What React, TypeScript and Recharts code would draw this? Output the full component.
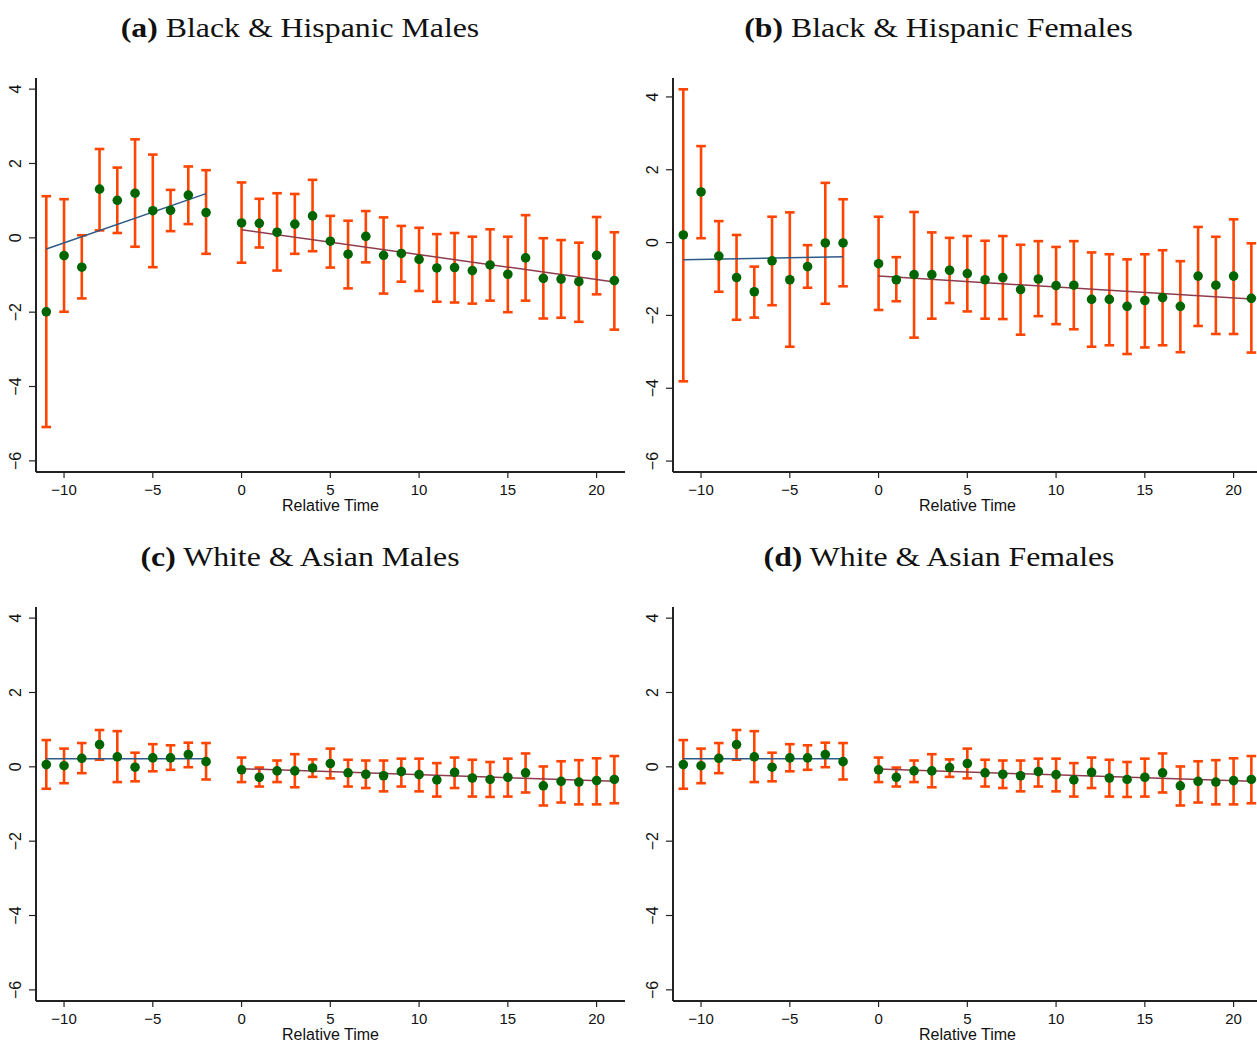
import React from 'react';
import { ComposedChart, Scatter, ErrorBar, XAxis, YAxis } from 'recharts';

// Event time (periods relative to treatment; -1 is the omitted reference period)
const relTime = [-11, -10, -9, -8, -7, -6, -5, -4, -3, -2, 0, 1, 2, 3, 4, 5, 6, 7, 8, 9, 10, 11, 12, 13, 14, 15, 16, 17, 18, 19, 20, 21];

// (a) Black & Hispanic Males
const bhMaleEst = [-1.99, -0.48, -0.79, 1.31, 1.01, 1.2, 0.73, 0.74, 1.15, 0.68, 0.4, 0.39, 0.15, 0.37, 0.59, -0.09, -0.44, 0.04, -0.47, -0.42, -0.58, -0.81, -0.8, -0.88, -0.73, -0.98, -0.54, -1.09, -1.11, -1.18, -0.47, -1.15];
const bhMaleLo = [-5.09, -1.99, -1.63, 0.2, 0.13, -0.24, -0.79, 0.18, 0.37, -0.43, -0.67, -0.26, -0.88, -0.43, -0.36, -0.8, -1.36, -0.66, -1.5, -1.18, -1.43, -1.72, -1.74, -1.77, -1.69, -2.0, -1.69, -2.17, -2.15, -2.26, -1.52, -2.47];
const bhMaleHi = [1.12, 1.04, 0.07, 2.39, 1.89, 2.65, 2.24, 1.29, 1.92, 1.82, 1.49, 1.05, 1.2, 1.18, 1.56, 0.59, 0.46, 0.72, 0.55, 0.32, 0.27, 0.1, 0.13, 0.03, 0.23, 0.03, 0.61, -0.01, -0.06, -0.13, 0.56, 0.15];
const bhMalePreFit = [{ t: -11, v: -0.3 }, { t: -2, v: 1.19 }];
const bhMalePostFit = [{ t: 0, v: 0.22 }, { t: 21, v: -1.19 }];

// (b) Black & Hispanic Females
const bhFemaleEst = [0.21, 1.39, -0.37, -0.96, -1.35, -0.5, -1.02, -0.66, -0.01, -0.01, -0.58, -1.02, -0.88, -0.88, -0.76, -0.85, -1.02, -0.96, -1.29, -1.0, -1.18, -1.17, -1.56, -1.56, -1.75, -1.59, -1.51, -1.75, -0.92, -1.17, -0.92, -1.53];
const bhFemaleLo = [-3.81, 0.12, -1.35, -2.12, -2.06, -1.72, -2.86, -1.24, -1.68, -1.2, -1.85, -1.61, -2.61, -2.09, -1.66, -1.89, -2.09, -2.1, -2.53, -2.02, -2.24, -2.38, -2.86, -2.82, -3.06, -2.88, -2.82, -3.01, -2.29, -2.51, -2.51, -3.02];
const bhFemaleHi = [4.21, 2.65, 0.59, 0.21, -0.66, 0.71, 0.83, -0.07, 1.64, 1.19, 0.71, -0.4, 0.84, 0.28, 0.13, 0.18, 0.05, 0.18, -0.06, 0.04, -0.12, 0.04, -0.27, -0.32, -0.46, -0.32, -0.21, -0.51, 0.43, 0.16, 0.64, -0.02];
const bhFemalePreFit = [{ t: -11, v: -0.47 }, { t: -2, v: -0.39 }];
const bhFemalePostFit = [{ t: 0, v: -0.92 }, { t: 21, v: -1.55 }];

// (c) White & Asian Males
const waMaleEst = [0.06, 0.03, 0.23, 0.6, 0.27, -0.01, 0.24, 0.24, 0.33, 0.14, -0.08, -0.28, -0.11, -0.11, -0.03, 0.09, -0.16, -0.2, -0.24, -0.13, -0.21, -0.35, -0.15, -0.3, -0.34, -0.28, -0.16, -0.51, -0.39, -0.41, -0.37, -0.34];
const waMaleLo = [-0.59, -0.44, -0.17, 0.19, -0.41, -0.39, -0.12, -0.08, -0.01, -0.34, -0.41, -0.53, -0.41, -0.55, -0.27, -0.31, -0.53, -0.57, -0.66, -0.53, -0.66, -0.8, -0.57, -0.8, -0.81, -0.8, -0.69, -1.04, -0.96, -1.01, -1.01, -0.98];
const waMaleHi = [0.72, 0.49, 0.64, 0.99, 0.96, 0.38, 0.61, 0.58, 0.65, 0.64, 0.25, -0.02, 0.17, 0.34, 0.2, 0.49, 0.19, 0.17, 0.17, 0.22, 0.22, 0.1, 0.25, 0.19, 0.13, 0.22, 0.36, 0.01, 0.15, 0.18, 0.23, 0.29];
const waMalePreFit = [{ t: -11, v: 0.22 }, { t: -2, v: 0.22 }];
const waMalePostFit = [{ t: 0, v: -0.05 }, { t: 21, v: -0.39 }];

// (d) White & Asian Females
const waFemaleEst = [0.06, 0.03, 0.23, 0.6, 0.27, -0.01, 0.24, 0.24, 0.33, 0.14, -0.08, -0.28, -0.11, -0.11, -0.02, 0.09, -0.16, -0.2, -0.24, -0.13, -0.21, -0.35, -0.15, -0.3, -0.34, -0.28, -0.16, -0.51, -0.39, -0.41, -0.37, -0.34];
const waFemaleLo = [-0.59, -0.44, -0.17, 0.19, -0.41, -0.39, -0.12, -0.08, -0.01, -0.34, -0.41, -0.53, -0.41, -0.55, -0.27, -0.31, -0.53, -0.57, -0.66, -0.53, -0.66, -0.8, -0.57, -0.8, -0.81, -0.8, -0.69, -1.04, -0.96, -1.01, -1.01, -0.98];
const waFemaleHi = [0.72, 0.49, 0.64, 0.99, 0.96, 0.38, 0.61, 0.58, 0.65, 0.64, 0.25, -0.02, 0.17, 0.34, 0.2, 0.49, 0.19, 0.17, 0.17, 0.22, 0.22, 0.1, 0.25, 0.19, 0.13, 0.22, 0.36, 0.01, 0.15, 0.18, 0.23, 0.29];
const waFemalePreFit = [{ t: -11, v: 0.22 }, { t: -2, v: 0.22 }];
const waFemalePostFit = [{ t: 0, v: -0.06 }, { t: 21, v: -0.39 }];

const xTicks = [-10, -5, 0, 5, 10, 15, 20];
const yTicks = [-6, -4, -2, 0, 2, 4];

const SANS = '"Liberation Sans", Arial, Helvetica, sans-serif';
const SERIF = '"Liberation Serif", "Times New Roman", serif';
const ORANGE = '#FF4500';
const GREEN = '#006400';
const PRE_COLOR = '#2e5a88';
const POST_COLOR = '#8f3b4b';

const buildRows = (est: number[], lo: number[], hi: number[]) =>
  relTime.map((t, i) => ({ t, v: est[i], ci: [est[i] - lo[i], hi[i] - est[i]] }));

const fmt = (n: number) => (n < 0 ? '\u2212' + Math.abs(n) : String(n));

const YTick = (props: any) => {
  const { x, y, payload } = props;
  return (
    <text
      x={x}
      y={y}
      transform={`rotate(-90, ${x}, ${y})`}
      textAnchor="middle"
      fontSize={16}
      fontFamily={SANS}
      fill="#111"
    >
      {fmt(payload.value)}
    </text>
  );
};

const XTick = (props: any) => {
  const { x, y, payload } = props;
  return (
    <text x={x} y={y + 14.5} textAnchor="middle" fontSize={15} fontFamily={SANS} fill="#111">
      {fmt(payload.value)}
    </text>
  );
};

const XLabel = (props: any) => {
  const vb = props.viewBox || {};
  return (
    <text x={vb.x + vb.width / 2} y={vb.y + 39} textAnchor="middle" fontSize={16} fontFamily={SANS} fill="#111">
      Relative Time
    </text>
  );
};

const Dot = (p: any) => <circle cx={p.cx} cy={p.cy} r={4.8} fill={GREEN} />;
const NoMark = () => <g />;

type PanelProps = {
  left: number;
  top: number;
  yDomain: [number, number];
  rows: { t: number; v: number; ci: number[] }[];
  preFit: { t: number; v: number }[];
  postFit: { t: number; v: number }[];
};

const Panel = ({ left, top, yDomain, rows, preFit, postFit }: PanelProps) => (
  <div style={{ position: 'absolute', left, top }}>
    <ComposedChart width={640} height={530} margin={{ top: 78, right: 15, bottom: 18, left: 0 }}>
      <XAxis
        xAxisId="b"
        dataKey="t"
        type="number"
        domain={[-11.58, 21.6]}
        allowDataOverflow
        ticks={xTicks}
        tick={<XTick />}
        tickSize={6}
        tickLine={{ stroke: '#222', strokeWidth: 1.2 }}
        axisLine={{ stroke: '#222', strokeWidth: 2 }}
        height={40}
        label={<XLabel />}
      />
      <XAxis
        xAxisId="top"
        orientation="top"
        dataKey="t"
        type="number"
        domain={[-11.58, 21.6]}
        allowDataOverflow
        tick={false}
        tickLine={false}
        axisLine={{ stroke: '#666', strokeWidth: 1.5 }}
        height={0}
      />
      <YAxis
        yAxisId="l"
        dataKey="v"
        type="number"
        domain={yDomain}
        allowDataOverflow
        ticks={yTicks}
        tick={<YTick />}
        tickSize={7}
        tickMargin={8}
        tickLine={{ stroke: '#222', strokeWidth: 1.2 }}
        axisLine={{ stroke: '#222', strokeWidth: 2 }}
        width={36}
      />
      <YAxis
        yAxisId="r"
        orientation="right"
        dataKey="v"
        type="number"
        domain={yDomain}
        allowDataOverflow
        tick={false}
        tickLine={false}
        axisLine={{ stroke: '#666', strokeWidth: 1.5 }}
        width={0}
      />
      <Scatter xAxisId="b" yAxisId="l" data={rows} dataKey="v" shape={NoMark} isAnimationActive={false}>
        <ErrorBar dataKey="ci" direction="y" width={4.8} stroke={ORANGE} strokeWidth={2.6} isAnimationActive={false} />
      </Scatter>
      <Scatter
        xAxisId="b"
        yAxisId="l"
        data={preFit}
        dataKey="v"
        line={{ stroke: PRE_COLOR, strokeWidth: 1.5 }}
        shape={NoMark}
        isAnimationActive={false}
      />
      <Scatter
        xAxisId="b"
        yAxisId="l"
        data={postFit}
        dataKey="v"
        line={{ stroke: POST_COLOR, strokeWidth: 1.5 }}
        shape={NoMark}
        isAnimationActive={false}
      />
      <Scatter xAxisId="b" yAxisId="l" data={rows} dataKey="v" shape={Dot} isAnimationActive={false} />
    </ComposedChart>
  </div>
);

const Title = ({ cx, y, tag, text }: { cx: number; y: number; tag: string; text: string }) => (
  <text
    transform={`translate(${cx}, ${y}) scale(1.2, 1)`}
    textAnchor="middle"
    fontSize={26.5}
    fontFamily={SERIF}
    fill="#111"
  >
    <tspan fontWeight="bold">{tag}</tspan>
    <tspan>{' ' + text}</tspan>
  </text>
);

export default function App() {
  return (
    <div
      style={{
        position: 'absolute',
        left: 0,
        top: 0,
        width: 1257,
        height: 1042,
        overflow: 'hidden',
        background: '#fff',
      }}
    >
      <svg width={1257} height={1042} style={{ position: 'absolute', left: 0, top: 0 }}>
        <Title cx={300} y={36.5} tag="(a)" text="Black & Hispanic Males" />
        <Title cx={938.5} y={36.5} tag="(b)" text="Black & Hispanic Females" />
        <Title cx={300} y={565.5} tag="(c)" text="White & Asian Males" />
        <Title cx={939} y={565.5} tag="(d)" text="White & Asian Females" />
      </svg>
      <Panel left={0} top={0} yDomain={[-6.3, 4.3]} rows={buildRows(bhMaleEst, bhMaleLo, bhMaleHi)} preFit={bhMalePreFit} postFit={bhMalePostFit} />
      <Panel left={637} top={0} yDomain={[-6.3, 4.52]} rows={buildRows(bhFemaleEst, bhFemaleLo, bhFemaleHi)} preFit={bhFemalePreFit} postFit={bhFemalePostFit} />
      <Panel left={0} top={529} yDomain={[-6.3, 4.3]} rows={buildRows(waMaleEst, waMaleLo, waMaleHi)} preFit={waMalePreFit} postFit={waMalePostFit} />
      <Panel left={637} top={529} yDomain={[-6.3, 4.3]} rows={buildRows(waFemaleEst, waFemaleLo, waFemaleHi)} preFit={waFemalePreFit} postFit={waFemalePostFit} />
    </div>
  );
}
